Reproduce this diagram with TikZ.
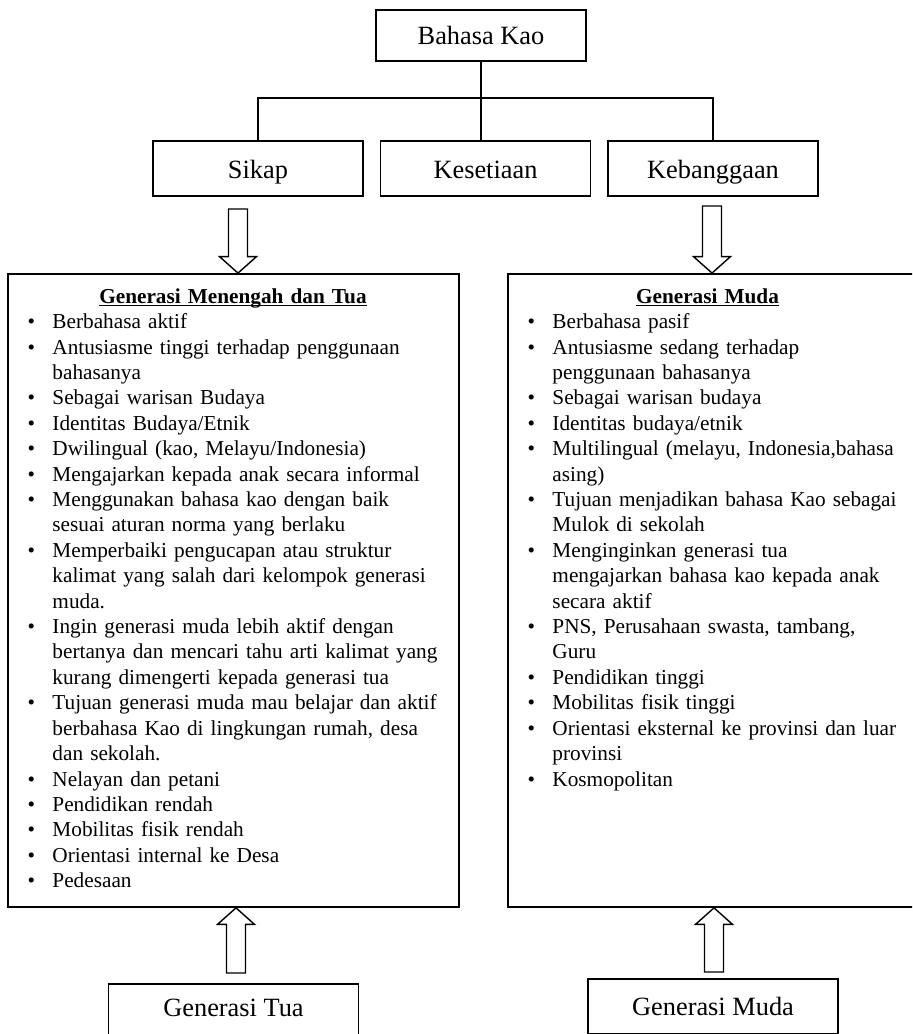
\documentclass[tikz,border=0pt]{standalone}
\usepackage{fontspec}
\setmainfont{Liberation Serif}
\usepackage{tikz}
\usetikzlibrary{positioning,calc}

% bullet list used inside the two big boxes
\newenvironment{butir}{%
  \begin{list}{\textbullet}{%
    \setlength{\leftmargin}{0.9cm}%
    \setlength{\labelsep}{0.35cm}%
    \setlength{\labelwidth}{0.55cm}%
    \setlength{\itemsep}{0pt}\setlength{\parsep}{0pt}%
    \setlength{\topsep}{0pt}\setlength{\partopsep}{0pt}}}%
  {\end{list}}
\newcommand{\judul}[1]{\makebox[\linewidth]{\strut\underline{\smash{\textbf{#1}}}}\par}

\begin{document}
\begin{tikzpicture}[
  every node/.style={font=\fontsize{12.1}{14.46}\selectfont},
  kotak/.style={draw, line width=1pt, font=\fontsize{15}{18}\selectfont,
                minimum width=4.2cm, inner xsep=0pt, inner ysep=0pt,
                text height=0.76cm, text depth=0.34cm},
  kotakbawah/.style={draw, line width=1pt, font=\fontsize{15}{18}\selectfont,
                minimum width=5cm, inner xsep=0pt, inner ysep=0.1cm},
  wadah/.style={draw, line width=1pt, inner sep=0pt},
  daftar/.style={inner sep=0pt, align=left},
  garis/.style={line width=0.9pt},
  panah/.style={draw, line width=0.8pt, fill=white, line join=miter}
]
% Scale: 1px of the sheet = 0.02cm  => 912 x 1034 px = 18.24 x 20.68 cm
\useasboundingbox (0,0) rectangle (18.24,20.68);
\clip (0,0) rectangle (18.24,20.68);

%% --- Top of the tree -----------------------------------------
\node[kotak, text height=0.70cm, text depth=0.32cm] (kao) at (9.62,19.97) {Bahasa Kao};
\node[kotak] (sikap)  at (5.16,17.31)  {Sikap};
\node[kotak] (setia)  at (9.71,17.31)  {Kesetiaan};
\node[kotak] (bangga) at (14.26,17.31) {Kebanggaan};

\coordinate (cabang) at (9.62,18.72);   % branching bar
\draw[garis] (kao.south) -- (kao.south |- setia.north);
\draw[garis] (sikap.north) |- (cabang) -| (bangga.north);

%% --- The two big boxes ---------------------------------------
\node[wadah, minimum width=9.02cm, minimum height=12.66cm] (tuabox)  at (4.67,8.87)  {};
\node[wadah, minimum width=8.24cm, minimum height=12.66cm] (mudabox) at (14.28,8.87) {}; % runs off the sheet

\node[daftar, text width=9.02cm, anchor=north west] (tuateks)
     at ($(tuabox.north west)+(0,-0.24)$) {%
  \judul{Generasi Menengah dan Tua}
  \begin{butir}
  \item Berbahasa aktif
  \item Antusiasme tinggi terhadap penggunaan\\ bahasanya
  \item Sebagai warisan Budaya
  \item Identitas Budaya/Etnik
  \item Dwilingual (kao, Melayu/Indonesia)
  \item Mengajarkan kepada anak secara informal
  \item Menggunakan bahasa kao dengan baik\\ sesuai aturan norma yang berlaku
  \item Memperbaiki pengucapan atau struktur\\ kalimat yang salah dari kelompok generasi\\ muda.
  \item Ingin generasi muda lebih aktif dengan\\ bertanya dan mencari tahu arti kalimat yang\\ kurang dimengerti kepada generasi tua
  \item Tujuan generasi muda mau belajar dan aktif\\ berbahasa Kao di lingkungan rumah, desa\\ dan sekolah.
  \item Nelayan dan petani
  \item Pendidikan rendah
  \item Mobilitas fisik rendah
  \item Orientasi internal ke Desa
  \item Pedesaan
  \end{butir}};

\node[daftar, text width=8cm, anchor=north west] (mudateks)
     at ($(mudabox.north west)+(0,-0.24)$) {%
  \judul{Generasi Muda}
  \begin{butir}
  \item Berbahasa pasif
  \item Antusiasme sedang terhadap\\ penggunaan bahasanya
  \item Sebagai warisan budaya
  \item Identitas budaya/etnik
  \item Multilingual (melayu, Indonesia,bahasa\\ asing)
  \item Tujuan menjadikan bahasa Kao sebagai\\ Mulok di sekolah
  \item Menginginkan generasi tua\\ mengajarkan bahasa kao kepada anak\\ secara aktif
  \item PNS, Perusahaan swasta, tambang,\\ Guru
  \item Pendidikan tinggi
  \item Mobilitas fisik tinggi
  \item Orientasi eksternal ke provinsi dan luar\\ provinsi
  \item Kosmopolitan
  \end{butir}};

%% --- Bottom boxes --------------------------------------------
\node[kotakbawah, text height=0.56cm, text depth=0.5cm, anchor=north] (gentua)
     at (4.67,1.02) {Generasi Tua};
\node[kotakbawah, text height=0.64cm, text depth=0.26cm, anchor=north] (genmuda)
     at (14.26,1.12) {Generasi Muda};

%% --- Hollow block arrows -------------------------------------
\coordinate (sikapekor)   at (4.76,16.50);
\coordinate (sikapujung)  at (sikapekor |- tuabox.north);
\coordinate (banggaekor)  at (14.24,16.56);
\coordinate (banggaujung) at (banggaekor |- mudabox.north);
\coordinate (tuaekor)     at (4.72,1.22);
\coordinate (tuaujung)    at (tuaekor |- tuabox.south);
\coordinate (mudaekor)    at (14.28,1.24);
\coordinate (mudaujung)   at (mudaekor |- mudabox.south);

\foreach \awal/\akhir in {sikapekor/sikapujung, banggaekor/banggaujung,
                          tuaekor/tuaujung, mudaekor/mudaujung}{
  \coordinate (kepala) at ($(\akhir)!0.33cm!(\awal)$);
  \draw[panah] ($(\awal)!0.19cm!90:(\akhir)$) -- ($(kepala)!0.19cm!90:(\akhir)$)
    -- ($(kepala)!0.37cm!90:(\akhir)$) -- (\akhir)
    -- ($(kepala)!0.37cm!-90:(\akhir)$) -- ($(kepala)!0.19cm!-90:(\akhir)$)
    -- ($(\awal)!0.19cm!-90:(\akhir)$) -- cycle;
}

\end{tikzpicture}
\end{document}
